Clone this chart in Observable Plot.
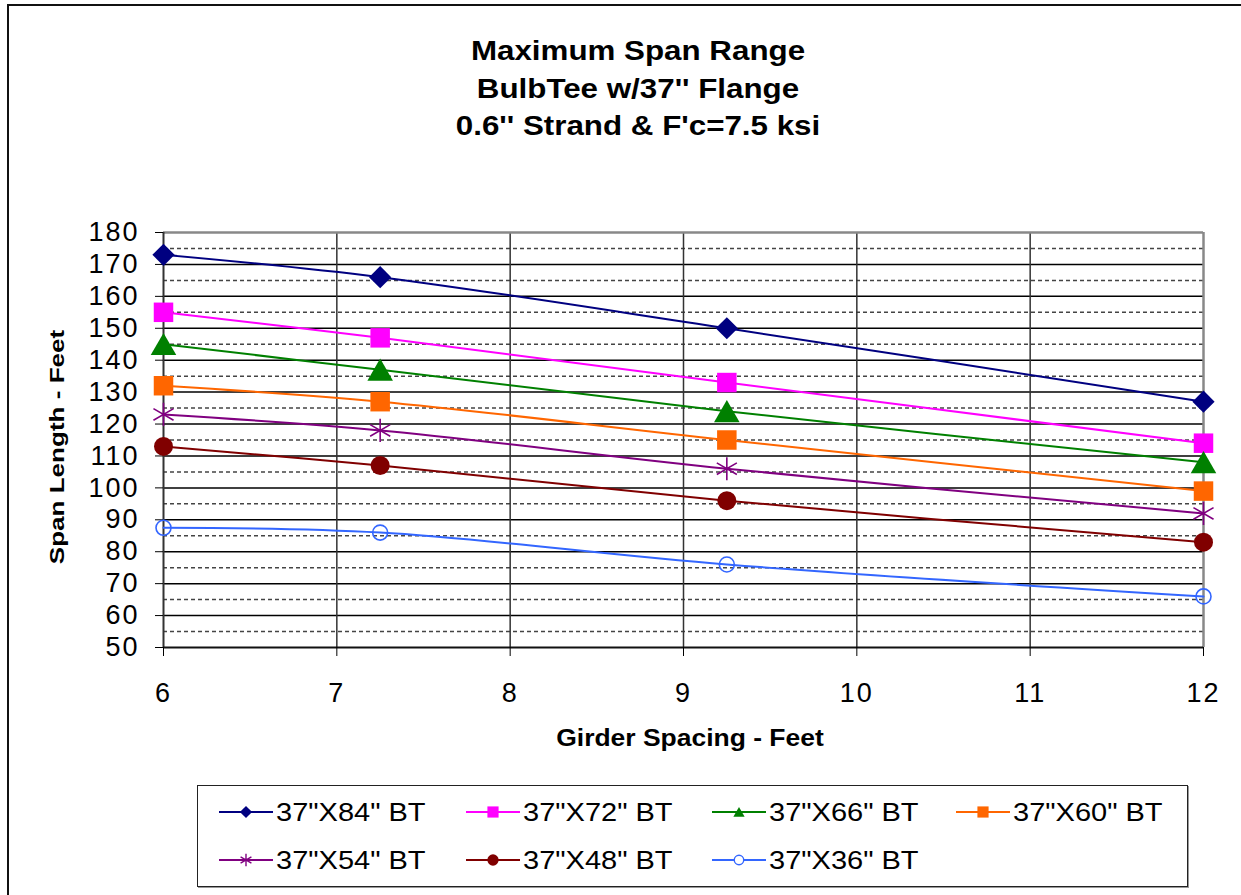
<!DOCTYPE html>
<html><head><meta charset="utf-8">
<script src="https://cdn.jsdelivr.net/npm/d3@7"></script>
<script src="https://cdn.jsdelivr.net/npm/@observablehq/plot@0.6"></script>
<style>
html,body{margin:0;padding:0;background:#fff;}
body{width:1241px;height:895px;position:relative;overflow:hidden;font-family:"Liberation Sans",Arial,sans-serif;color:#000;}
#frame{position:absolute;left:7px;top:4px;width:1300px;height:1000px;border:2px solid #111;}
#title{position:absolute;left:0;top:33px;width:1276px;text-align:center;font-weight:bold;font-size:27px;line-height:37.5px;transform:scaleX(1.16);transform-origin:center;white-space:nowrap;}
#chart{position:absolute;left:0;top:150px;}
#chart svg text{letter-spacing:2px;}
#ylab{position:absolute;left:56px;top:447px;font-weight:bold;font-size:21px;line-height:1;white-space:nowrap;transform:translate(-50%,-50%) rotate(-90deg) scaleX(1.24);}
#xlab{position:absolute;left:690px;top:738px;font-weight:bold;font-size:23px;line-height:1;white-space:nowrap;transform:translate(-50%,-50%) scaleX(1.15);}
#legend{position:absolute;left:197px;top:785px;width:989px;height:100px;border:1.5px solid #222;box-shadow:1px 1px 0 #999;}
.li{position:absolute;height:28px;}
.li svg{position:absolute;left:0;top:0;}
.li span{position:absolute;left:57px;top:0;font-size:25px;line-height:28px;white-space:nowrap;transform:scaleX(1.16);transform-origin:left center;}
</style></head>
<body>
<div id="frame"></div>
<div id="title">Maximum Span Range<br>BulbTee w/37'' Flange<br>0.6'' Strand &amp; F'c=7.5 ksi</div>
<div id="chart"></div>
<div id="ylab">Span Length - Feet</div>
<div id="xlab">Girder Spacing - Feet</div>
<div id="legend"></div>
<script>
// ---- data ----
const spacing = [6, 7.25, 9.25, 12];
const bt84 = [173, 166, 150, 127];
const bt72 = [155, 147, 133, 114];
const bt66 = [145, 137, 124, 108];
const bt60 = [132, 127, 115, 99];
const bt54 = [123, 118, 106, 92];
const bt48 = [113, 107, 96, 83];
const bt36 = [87.5, 86, 76, 66];
const seriesNames = ['37"X84" BT', '37"X72" BT', '37"X66" BT', '37"X60" BT', '37"X54" BT', '37"X48" BT', '37"X36" BT'];
const seriesValues = [bt84, bt72, bt66, bt60, bt54, bt48, bt36];
const yTicks = [50, 60, 70, 80, 90, 100, 110, 120, 130, 140, 150, 160, 170, 180];
const yMinorTicks = [55, 65, 75, 85, 95, 105, 115, 125, 135, 145, 155, 165, 175];
const xTicks = [6, 7, 8, 9, 10, 11, 12];

// ---- styles ----
const colors = ["#000080", "#FF00FF", "#008000", "#FF6600", "#800080", "#800000", "#3366FF"];
const symbols = ["diamond2", "square", "triangle", "square", "asterisk", "circle", "circle"];
const radii = [10, 11, 9.5, 11, 11, 9.5, 7.5];
const filled = [true, true, true, true, false, true, false];
const dys = [0, 0, 3.5, 0, 0, 0, 0];

const rows = seriesNames.flatMap((name, i) => spacing.map((x, j) => ({series: name, i, x, y: seriesValues[i][j]})));

const marks = [
  Plot.ruleY(yMinorTicks, {stroke: "#444", strokeWidth: 1.5, strokeDasharray: "4,3"}),
  Plot.ruleY(yTicks.filter(v => v > 50 && v < 180), {stroke: "#000", strokeWidth: 1.5}),
  Plot.ruleX(xTicks.filter(v => v > 6 && v < 12), {stroke: "#333", strokeWidth: 1.5}),
  Plot.ruleY([180], {stroke: "#888", strokeWidth: 2.5}),
  Plot.ruleX([12], {stroke: "#888", strokeWidth: 2.5}),
  Plot.ruleX([6], {stroke: "#333", strokeWidth: 2}),
  Plot.ruleY([50], {stroke: "#111", strokeWidth: 2}),
  Plot.axisY({ticks: yTicks, tickSize: 8, tickPadding: 16, label: null, anchor: "left", tickFormat: d => String(d)}),
  Plot.axisX({ticks: xTicks, tickSize: 9, tickPadding: 26, label: null, anchor: "bottom", tickFormat: d => String(d)})
];
seriesNames.forEach((name, i) => {
  const d = rows.filter(r => r.i === i);
  marks.push(Plot.line(d, {x: "x", y: "y", stroke: colors[i], strokeWidth: 2, curve: "catmull-rom"}));
});
seriesNames.forEach((name, i) => {
  const d = rows.filter(r => r.i === i);
  marks.push(Plot.dot(d, {
    x: "x", y: "y", symbol: symbols[i], r: radii[i], dy: dys[i],
    fill: filled[i] ? colors[i] : "none",
    stroke: colors[i], strokeWidth: filled[i] ? 0 : 1.6
  }));
});

const chart = Plot.plot({
  width: 1241, height: 617,
  marginTop: 82, marginBottom: 120, marginLeft: 163, marginRight: 38,
  x: {domain: [6, 12]},
  y: {domain: [50, 180]},
  style: {fontSize: "27px", fontFamily: '"Liberation Sans", Arial, sans-serif', color: "#000", background: "transparent"},
  marks
});
document.getElementById("chart").appendChild(chart);

// ---- legend ----
const legendCols = [219, 466, 712, 956];
const legendRows = [812, 860];
const legendSymbols = [d3.symbolDiamond2, d3.symbolSquare, d3.symbolTriangle, d3.symbolSquare, d3.symbolAsterisk, d3.symbolCircle, d3.symbolCircle];
const legendSizes = [95, 125, 55, 125, 110, 100, 70];
const legend = document.getElementById("legend");
seriesNames.forEach((name, i) => {
  const col = i < 4 ? i : i - 4;
  const row = i < 4 ? 0 : 1;
  const item = document.createElement("div");
  item.className = "li";
  item.style.left = (legendCols[col] - 197 - 1.5) + "px";
  item.style.top = (legendRows[row] - 785 - 1.5 - 14) + "px";
  const svg = d3.create("svg").attr("width", 56).attr("height", 28);
  svg.append("line").attr("x1", 0).attr("x2", 54).attr("y1", 14).attr("y2", 14).attr("stroke", colors[i]).attr("stroke-width", 2);
  svg.append("path").attr("d", d3.symbol(legendSymbols[i], legendSizes[i])())
    .attr("transform", `translate(27,${i === 2 ? 15.5 : 14})`)
    .attr("fill", filled[i] ? colors[i] : "#fff")
    .attr("stroke", filled[i] ? "none" : colors[i]).attr("stroke-width", 1.4);
  item.appendChild(svg.node());
  const sp = document.createElement("span");
  sp.textContent = name;
  item.appendChild(sp);
  legend.appendChild(item);
});
</script>
</body></html>
